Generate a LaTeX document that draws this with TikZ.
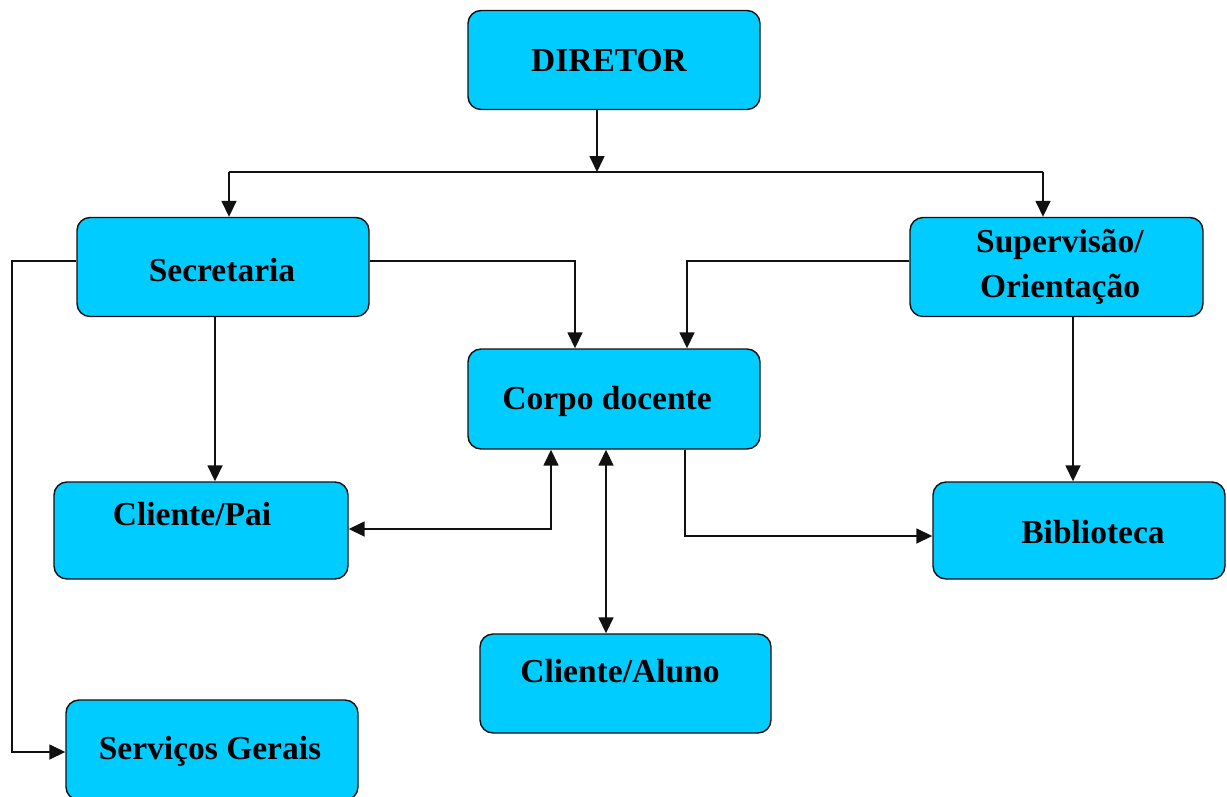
\documentclass[tikz,border=0pt]{standalone}
\usepackage{fontspec}
\setmainfont{Liberation Serif}
\usetikzlibrary{arrows.meta}
\definecolor{boxcyan}{HTML}{00CCFF}
\definecolor{ink}{HTML}{111111}
\begin{document}
\begin{tikzpicture}[x=1pt,y=-1pt,
  box/.style={draw=ink, fill=boxcyan, rounded corners=13pt, line width=1.4pt,
    inner sep=0pt, minimum width=292pt, minimum height=99pt},
  lbl/.style={font=\fontsize{33.5}{45}\selectfont\bfseries, align=center, inner sep=0pt, text=black},
  link/.style={draw=ink, line width=1.6pt},
  tip/.style={Triangle[length=16pt,width=15pt]},
  arr/.style={link, -{Triangle[length=16pt,width=15pt]}},
  darr/.style={link, {Triangle[length=16pt,width=15pt]}-{Triangle[length=16pt,width=15pt]}}]
\useasboundingbox (0,0) rectangle (1227,796);

% boxes
\node[box] (dir) at (614,60) {};
\node[box] (sec) at (223,267) {};
\node[box, minimum width=293pt] (sup) at (1056.5,267) {};
\node[box, minimum height=100pt] (cor) at (614,399) {};
\node[box, minimum width=294pt, minimum height=97pt] (pai) at (201,530.5) {};
\node[box, minimum height=97pt] (bib) at (1079,530.5) {};
\node[box, minimum width=291pt] (alu) at (625.5,683.5) {};
\node[box, minimum height=100pt] (srv) at (212,750) {};

% labels
\node[lbl] (tdir) at (609,61) {DIRETOR};
\node[lbl] (tsec) at (222,270) {Secretaria};
\node[lbl] (tsup) at (1060,267) {Supervisão/\\Orientação};
\node[lbl] (tcor) at (607,401) {Corpo docente};
\node[lbl] (tpai) at (192,514) {Cliente/Pai};
\node[lbl] (tbib) at (1093,532) {Biblioteca};
\node[lbl] (talu) at (620,671) {Cliente/Aluno};
\node[lbl] (tsrv) at (210,751) {Serviços Gerais};

% bend points
\coordinate (j)  at (597,172);
\coordinate (jl) at (229,172);
\coordinate (jr) at (1043,172);
\coordinate (a1) at (575,261);
\coordinate (a2) at (687,261);
\coordinate (a3) at (12,261);
\coordinate (a4) at (12,752);
\coordinate (a5) at (215,0);
\coordinate (a6) at (551,529);
\coordinate (a7) at (685,536);
\coordinate (a8) at (1073,0);
\coordinate (a9) at (606,0);

% connectors
\draw[arr] (dir.south -| j) -- (j);
\draw[link] (jl) -- (jr);
\draw[arr] (jl) -- (jl |- sec.north);
\draw[arr] (jr) -- (jr |- sup.north);
\draw[arr] (sec.east |- a1) -- (a1) -- (a1 |- cor.north);
\draw[arr] (sup.west |- a2) -- (a2) -- (a2 |- cor.north);
\draw[arr] (sec.west |- a3) -- (a3) -- (a4) -- (a4 -| srv.west);
\draw[arr] (a5 |- sec.south) -- (a5 |- pai.north);
\draw[arr] (a8 |- sup.south) -- (a8 |- bib.north);
\draw[darr] (a6 |- cor.south) -- (a6) -- (a6 -| pai.east);
\draw[darr] (a9 |- cor.south) -- (a9 |- alu.north);
\draw[arr] (a7 |- cor.south) -- (a7) -- (a7 -| bib.west);
\end{tikzpicture}
\end{document}
